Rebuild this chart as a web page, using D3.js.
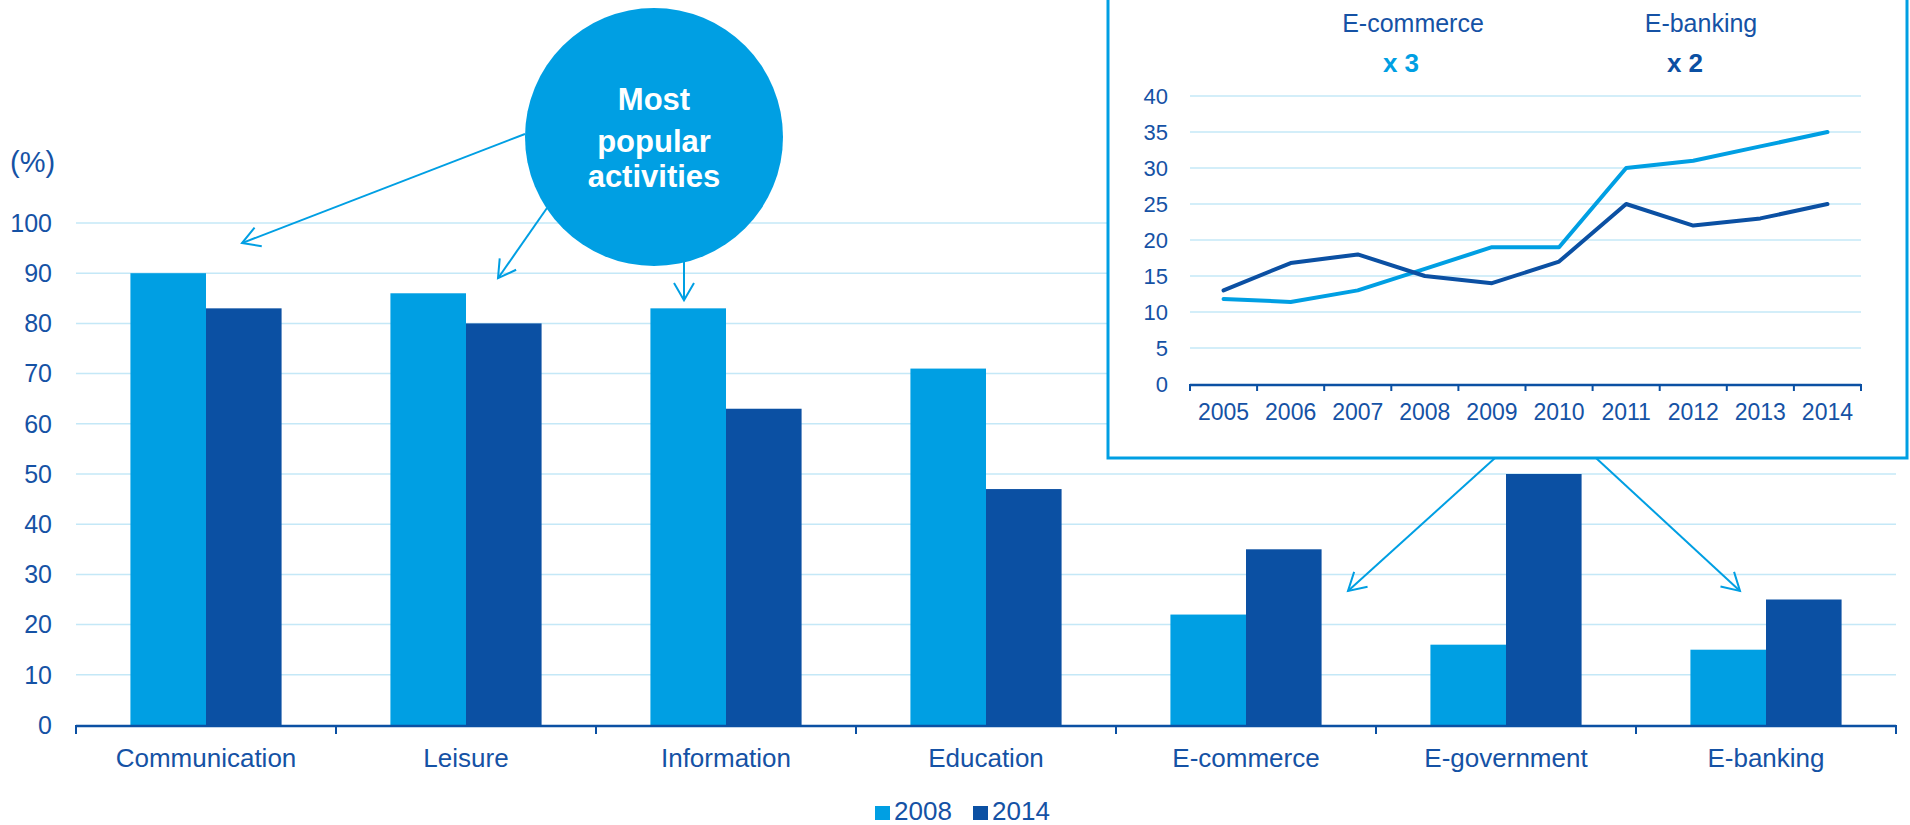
<!DOCTYPE html>
<html>
<head>
<meta charset="utf-8">
<script src="https://cdn.jsdelivr.net/npm/d3@7/dist/d3.min.js"></script>
<style>
  html, body { margin: 0; padding: 0; background: #fff; }
  svg { display: block; font-family: "Liberation Sans", Arial, Helvetica, sans-serif; }
</style>
</head>
<body>
<svg id="chart" width="1910" height="825"></svg>
<script>
// ---- Data: internet activities, share of users (%) ----
const categories = ["Communication", "Leisure", "Information", "Education", "E-commerce", "E-government", "E-banking"];
const seriesNames = ["2008", "2014"];
const values2008 = [90, 86, 83, 71, 22, 16, 15];
const values2014 = [83, 80, 63, 47, 35, 50, 25];
const yTicks = [0, 10, 20, 30, 40, 50, 60, 70, 80, 90, 100];

// ---- Inset data: trend 2005-2014 ----
const years = ["2005", "2006", "2007", "2008", "2009", "2010", "2011", "2012", "2013", "2014"];
const ecommerce = [11.8, 11.4, 13, 16, 19, 19, 30, 31, 33, 35];
const ebanking = [13, 16.8, 18, 15, 14, 17, 25, 22, 23, 25];
const insetTicks = [0, 5, 10, 15, 20, 25, 30, 35, 40];

const LIGHT = "#009fe3";
const DARK = "#0b50a3";
const TEXT = "#1552a5";
const GRID = "#c4e8f7";

const svg = d3.select("#chart");

// ---- Main bar chart ----
const x0 = d3.scaleBand().domain(categories).range([76, 1896]).paddingInner(0).paddingOuter(0);
const x1 = d3.scaleBand().domain(seriesNames).range([0, x0.bandwidth()]).paddingInner(0).paddingOuter(0.72);
const y = d3.scaleLinear().domain([0, 100]).range([725, 223]);
const color = d3.scaleOrdinal().domain(seriesNames).range([LIGHT, DARK]);

// gridlines
svg.append("g").selectAll("line")
  .data(yTicks.filter(d => d > 0))
  .join("line")
  .attr("x1", 76).attr("x2", 1896)
  .attr("y1", d => y(d)).attr("y2", d => y(d))
  .attr("stroke", GRID).attr("stroke-width", 1.5);

// y tick labels
svg.append("g").selectAll("text")
  .data(yTicks)
  .join("text")
  .attr("x", 52).attr("y", d => y(d))
  .attr("dy", "0.35em")
  .attr("text-anchor", "end")
  .attr("font-size", 25)
  .attr("fill", TEXT)
  .text(d => d);

svg.append("text")
  .attr("x", 10).attr("y", 172)
  .attr("font-size", 29)
  .attr("fill", TEXT)
  .text("(%)");

// bars
const rows = categories.map((c, i) => ({ cat: c, vals: [
  { s: "2008", v: values2008[i] },
  { s: "2014", v: values2014[i] }
]}));

svg.append("g").selectAll("g")
  .data(rows)
  .join("g")
  .attr("transform", d => `translate(${x0(d.cat)},0)`)
  .selectAll("rect")
  .data(d => d.vals)
  .join("rect")
  .attr("x", d => x1(d.s))
  .attr("width", x1.bandwidth())
  .attr("y", d => y(d.v))
  .attr("height", d => y(0) - y(d.v))
  .attr("fill", d => color(d.s));

// x axis
const xAxis = svg.append("g");
xAxis.append("line")
  .attr("x1", 76).attr("x2", 1896)
  .attr("y1", y(0) + 1).attr("y2", y(0) + 1)
  .attr("stroke", DARK).attr("stroke-width", 2.5);
const boundaries = categories.map(c => x0(c)).concat([x0.range()[1]]);
xAxis.selectAll("line.tick")
  .data(boundaries)
  .join("line")
  .attr("class", "tick")
  .attr("x1", d => d).attr("x2", d => d)
  .attr("y1", y(0)).attr("y2", y(0) + 9)
  .attr("stroke", DARK).attr("stroke-width", 2);
xAxis.selectAll("text")
  .data(categories)
  .join("text")
  .attr("x", d => x0(d) + x0.bandwidth() / 2)
  .attr("y", 767)
  .attr("text-anchor", "middle")
  .attr("font-size", 26)
  .attr("fill", TEXT)
  .text(d => d);

// legend
const legend = svg.append("g").attr("transform", "translate(875,820)");
const legendItems = legend.selectAll("g")
  .data(seriesNames)
  .join("g")
  .attr("transform", (d, i) => `translate(${i * 98},0)`);
legendItems.append("rect")
  .attr("x", 0).attr("y", -14).attr("width", 15).attr("height", 14)
  .attr("fill", d => color(d));
legendItems.append("text")
  .attr("x", 19).attr("y", 0)
  .attr("font-size", 26)
  .attr("fill", TEXT)
  .text(d => d);

// ---- Arrow helper (open V head) ----
function arrow(g, x1p, y1p, x2p, y2p) {
  const ang = Math.atan2(y2p - y1p, x2p - x1p);
  const len = 20, spread = Math.PI / 6;
  g.append("line")
    .attr("x1", x1p).attr("y1", y1p).attr("x2", x2p).attr("y2", y2p)
    .attr("stroke", LIGHT).attr("stroke-width", 2);
  const p = d3.path();
  p.moveTo(x2p - len * Math.cos(ang - spread), y2p - len * Math.sin(ang - spread));
  p.lineTo(x2p, y2p);
  p.lineTo(x2p - len * Math.cos(ang + spread), y2p - len * Math.sin(ang + spread));
  g.append("path").attr("d", p.toString())
    .attr("fill", "none").attr("stroke", LIGHT).attr("stroke-width", 2)
    .attr("stroke-linejoin", "miter");
}

// ---- "Most popular activities" callout ----
const bubble = { cx: 654, cy: 137, r: 129 };
const callout = svg.append("g");
arrow(callout, 525, 134, x0("Communication") + 166, y(96));
arrow(callout, 547, 208, x0("Leisure") + 162, y(89));
arrow(callout, 684, 262, x0("Information") + 88, y(84.6));
callout.append("circle")
  .attr("cx", bubble.cx).attr("cy", bubble.cy).attr("r", bubble.r)
  .attr("fill", LIGHT);
callout.selectAll("text")
  .data([["Most", 110], ["popular", 152], ["activities", 187]])
  .join("text")
  .attr("x", bubble.cx + 0).attr("y", d => d[1])
  .attr("text-anchor", "middle")
  .attr("font-size", 31)
  .attr("font-weight", "bold")
  .attr("fill", "#fff")
  .text(d => d[0]);

// ---- Inset arrows (drawn below the inset frame) ----
const insetArrows = svg.append("g");
arrow(insetArrows, 1495, 458, x0("E-commerce") + 232, y(26.7));
arrow(insetArrows, 1596, 458, x0("E-banking") + 104, y(26.7));

// ---- Inset line chart ----
const inset = svg.append("g");
inset.append("rect")
  .attr("x", 1108).attr("y", -10).attr("width", 799).attr("height", 468)
  .attr("fill", "#fff").attr("stroke", LIGHT).attr("stroke-width", 3);

const ix = d3.scaleBand().domain(years).range([1190, 1861]).padding(0);
const iy = d3.scaleLinear().domain([0, 40]).range([384, 96]);

inset.append("g").selectAll("line")
  .data(insetTicks.filter(d => d > 0))
  .join("line")
  .attr("x1", 1190).attr("x2", 1861)
  .attr("y1", d => iy(d)).attr("y2", d => iy(d))
  .attr("stroke", GRID).attr("stroke-width", 1.5);

inset.append("g").selectAll("text")
  .data(insetTicks)
  .join("text")
  .attr("x", 1168).attr("y", d => iy(d))
  .attr("dy", "0.35em")
  .attr("text-anchor", "end")
  .attr("font-size", 22)
  .attr("fill", TEXT)
  .text(d => d);

inset.append("line")
  .attr("x1", 1190).attr("x2", 1861)
  .attr("y1", iy(0) + 1).attr("y2", iy(0) + 1)
  .attr("stroke", DARK).attr("stroke-width", 2.5);
const iBounds = years.map(d => ix(d)).concat([ix.range()[1]]);
inset.selectAll("line.itick")
  .data(iBounds)
  .join("line")
  .attr("class", "itick")
  .attr("x1", d => d).attr("x2", d => d)
  .attr("y1", iy(0)).attr("y2", iy(0) + 7)
  .attr("stroke", DARK).attr("stroke-width", 2);
inset.append("g").selectAll("text")
  .data(years)
  .join("text")
  .attr("x", d => ix(d) + ix.bandwidth() / 2)
  .attr("y", 420)
  .attr("text-anchor", "middle")
  .attr("font-size", 23)
  .attr("fill", TEXT)
  .text(d => d);

const line = d3.line()
  .x((d, i) => ix(years[i]) + ix.bandwidth() / 2)
  .y(d => iy(d));

inset.append("path")
  .attr("d", line(ecommerce))
  .attr("fill", "none").attr("stroke", LIGHT)
  .attr("stroke-width", 4).attr("stroke-linecap", "round").attr("stroke-linejoin", "round");
inset.append("path")
  .attr("d", line(ebanking))
  .attr("fill", "none").attr("stroke", DARK)
  .attr("stroke-width", 4).attr("stroke-linecap", "round").attr("stroke-linejoin", "round");

// inset headings
inset.append("text").attr("x", 1413).attr("y", 32).attr("text-anchor", "middle")
  .attr("font-size", 25).attr("fill", TEXT).text("E-commerce");
inset.append("text").attr("x", 1401).attr("y", 72).attr("text-anchor", "middle")
  .attr("font-size", 26).attr("font-weight", "bold").attr("fill", LIGHT).text("x 3");
inset.append("text").attr("x", 1701).attr("y", 32).attr("text-anchor", "middle")
  .attr("font-size", 25).attr("fill", TEXT).text("E-banking");
inset.append("text").attr("x", 1685).attr("y", 72).attr("text-anchor", "middle")
  .attr("font-size", 26).attr("font-weight", "bold").attr("fill", DARK).text("x 2");
</script>
</body>
</html>
